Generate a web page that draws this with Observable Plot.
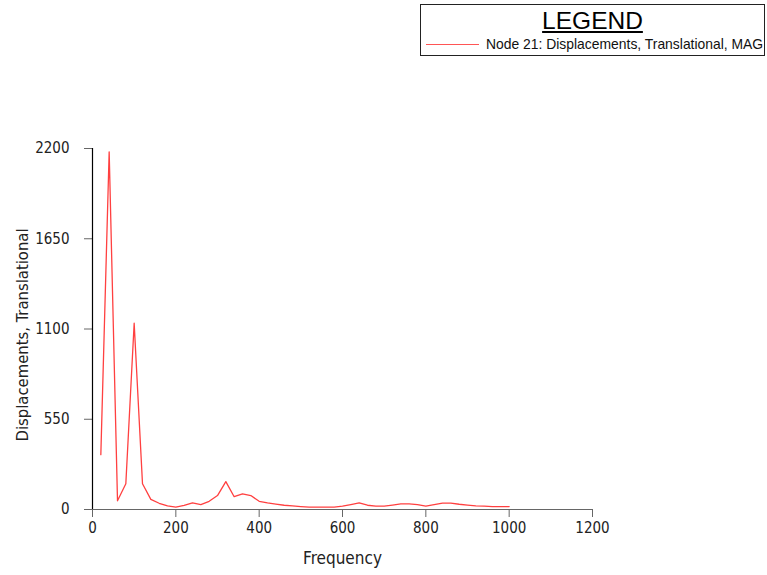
<!DOCTYPE html>
<html>
<head>
<meta charset="utf-8">
<script src="https://cdn.jsdelivr.net/npm/d3@7"></script>
<script src="https://cdn.jsdelivr.net/npm/@observablehq/plot@0.6"></script>
<style>
  html, body { margin: 0; padding: 0; background: white; }
  #wrap { position: relative; width: 767px; height: 575px; overflow: hidden; }
  #legend { position: absolute; left: 420px; top: 4px; width: 345px; height: 52px; border: 1px solid #222; background: white; box-sizing: border-box; font-family: "Liberation Sans", Arial, sans-serif; }
  #legend .title { position: absolute; left: 0; right: 0; top: 2px; text-align: center; font-size: 24.5px; text-decoration: underline; color: #000; }
  #legend .swatch { position: absolute; left: 5px; top: 39px; width: 53px; height: 0; border-top: 1.5px solid #ff5555; }
  #legend .label { position: absolute; left: 65px; top: 31px; font-size: 13.9px; color: #111; white-space: nowrap; }
</style>
</head>
<body>
<div id="wrap">
  <div id="chart"></div>
  <div id="legend"><div class="title">LEGEND</div><div class="swatch"></div><div class="label">Node 21: Displacements, Translational, MAG</div></div>
</div>
<script>
const frequency = [20, 40, 60, 80, 100, 120, 140, 160, 180, 200, 220, 240, 260, 280, 300, 320, 340, 360, 380, 400,
  420, 440, 460, 480, 500, 520, 540, 560, 580, 600, 620, 640, 660, 680, 700, 720, 740, 760, 780, 800,
  820, 840, 860, 880, 900, 920, 940, 960, 980, 1000];
const displacement = [334, 2180, 53, 157, 1135, 157, 62, 38, 22, 14, 25, 40, 30, 50, 85, 170, 78, 95, 85, 50,
  40, 33, 26, 22, 18, 14, 14, 14, 14, 20, 30, 40, 26, 20, 20, 27, 34, 34, 30, 20,
  30, 39, 39, 32, 27, 22, 20, 18, 18, 18];
const xTicks = [0, 200, 400, 600, 800, 1000, 1200];
const yTicks = [0, 550, 1100, 1650, 2200];
const xLabel = "Frequency";
const yLabel = "Displacements, Translational";

const data = frequency.map((f, i) => ({f, v: displacement[i]}));
const font = '"Liberation Sans Narrow", "DejaVu Sans Condensed", "Liberation Sans", Arial, sans-serif';

const chart = Plot.plot({
  width: 767,
  height: 575,
  marginLeft: 92,
  marginRight: 175,
  marginTop: 148,
  marginBottom: 66,
  style: {fontFamily: font, fontSize: "15px", color: "#222", background: "white"},
  x: {domain: [0, 1200]},
  y: {domain: [0, 2200]},
  marks: [
    Plot.axisX({ticks: xTicks, tickFormat: d => String(d), tickSize: 8, tickPadding: 5, stroke: "#666", fill: "#222", label: null, fontSize: 15}),
    Plot.axisY({ticks: yTicks, tickFormat: d => String(d), tickSize: 8, tickPadding: 15, stroke: "#666", fill: "#222", label: null, fontSize: 15}),
    Plot.ruleY([0], {stroke: "#666", strokeWidth: 1.2}),
    Plot.ruleX([0], {stroke: "#000", strokeWidth: 1.2}),
    Plot.line(data, {x: "f", y: "v", stroke: "#ff4040", strokeWidth: 1.3}),
    Plot.text([xLabel], {frameAnchor: "bottom", dy: 54, fontSize: 17, fill: "#222"}),
    Plot.text([yLabel], {frameAnchor: "left", textAnchor: "middle", dx: -70, dy: 6, rotate: -90, fontSize: 16.5, fill: "#222"})
  ]
});
document.getElementById("chart").appendChild(chart);
</script>
</body>
</html>
